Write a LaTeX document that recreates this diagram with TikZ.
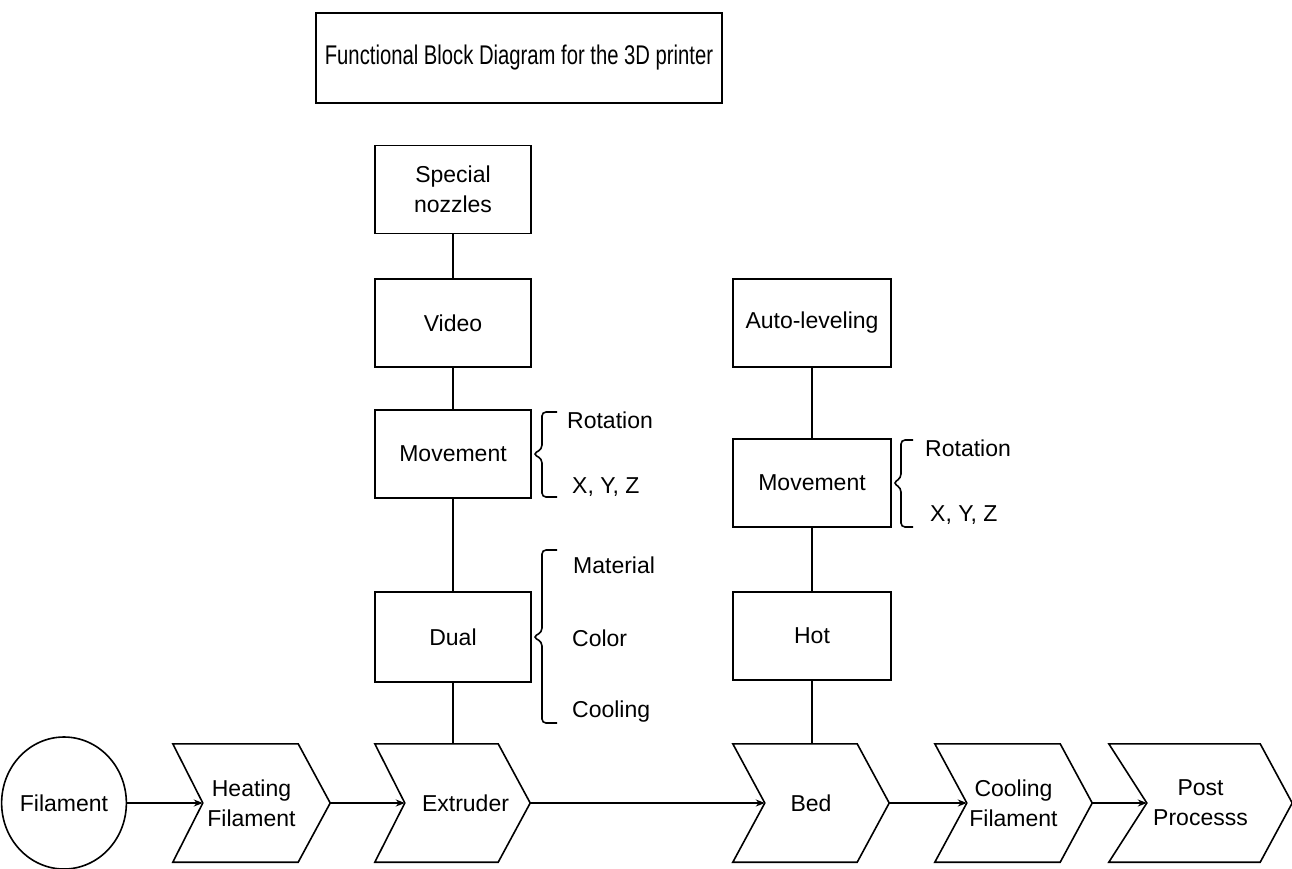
\documentclass[tikz,border=0pt]{standalone}
\usepackage{fontspec}
\setmainfont{Liberation Sans}
\newfontfamily\ttlfont{Liberation Sans}[FakeStretch=0.75]
\usetikzlibrary{arrows.meta,calc,shapes.geometric}
\newcommand\lbl{\fontsize{23}{30}\selectfont}
\newcommand\chevdraw[3]{\draw[ln] (#1.north west) -- ([xshift=-#2]#1.north east) -- (#1.east) -- ([xshift=-#2]#1.south east) -- (#1.south west) -- ([xshift=#3]#1.west) -- cycle;}
\begin{document}
\begin{tikzpicture}[x=1pt,y=-1pt,
  ln/.style={line width=1.6pt},
  box/.style={draw,line width=1.6pt,minimum width=156pt,minimum height=88pt,inner sep=0pt,align=center,font=\lbl},
  chev/.style={minimum height=118pt,inner sep=0pt,align=center,font=\lbl},
  arr/.style={line width=1.6pt,-{Stealth[length=9pt,width=7pt]}},
  side/.style={anchor=west,inner sep=0pt,font=\lbl}]
\useasboundingbox (0,0) rectangle (1292,868);
\fill[white] (0,0) rectangle (1292,868);

% title
\node[draw,line width=1.6pt,minimum width=406pt,minimum height=90pt,inner sep=0pt,font=\ttlfont\fontsize{27}{30}\selectfont] (title) at (519,58) {Functional Block Diagram for the 3D printer};

% left column
\node[box] (spec) at (453,189.5) {Special\\nozzles};
\node[box] (video) at (453,323) {Video};
\node[box] (mov1) at (453,454) {Movement};
\node[box,minimum height=90pt] (dual) at (453,637) {Dual};

% right column
\node[box,minimum width=158pt] (auto) at (812,323) {Auto-leveling};
\node[box,minimum width=158pt] (mov2) at (812,483) {Movement};
\node[box,minimum width=158pt] (hot) at (812,636) {Hot};

% bottom row
\node[draw,ellipse,line width=1.6pt,minimum width=118pt,minimum height=132pt,inner sep=0pt,font=\lbl] (fil) at (64,803) {Filament};
\node[chev,minimum width=157pt] (heat) at (251.5,803) {Heating\\Filament};
\node[chev,minimum width=155pt] (ext) at (452.5,803) {\hspace*{26pt}Extruder};
\node[chev,minimum width=156pt] (bed) at (811,803) {Bed};
\node[chev,minimum width=157pt] (cool) at (1013.5,803) {Cooling\\Filament};
\node[chev,minimum width=183pt] (post) at (1200.5,803) {Post\\Processs};
\chevdraw{heat}{32}{30}
\chevdraw{ext}{32}{30}
\chevdraw{bed}{32}{32}
\chevdraw{cool}{32}{32}
\chevdraw{post}{32}{38}

% arrows
\draw[arr] (fil.east) -- ([xshift=30]heat.west);
\draw[arr] (heat.east) -- ([xshift=30]ext.west);
\draw[arr] (ext.east) -- ([xshift=32]bed.west);
\draw[arr] (bed.east) -- ([xshift=32]cool.west);
\draw[arr] (cool.east) -- ([xshift=38]post.west);

% vertical links
\draw[ln] (spec) -- (video);
\draw[ln] (video) -- (mov1);
\draw[ln] (mov1) -- (dual);
\draw[ln] (dual.south) -- (dual.south |- ext.north);
\draw[ln] (auto) -- (mov2);
\draw[ln] (mov2) -- (hot);
\draw[ln] (hot.south) -- (hot.south |- bed.north);

% braces
\draw[ln,rounded corners=4pt] (557,412) -- (542,412) -- (542,449) -- (533,454) -- (542,459) -- (542,497) -- (557,497);
\draw[ln,rounded corners=4pt] (557,550) -- (542,550) -- (542,632) -- (533,637) -- (542,642) -- (542,723) -- (557,723);
\draw[ln,rounded corners=4pt] (913,440) -- (901,440) -- (901,478) -- (893,483) -- (901,488) -- (901,527) -- (913,527);

% side labels
\node[side] (rot1) at (567,420) {Rotation};
\node[side] (xyz1) at (572,487) {X, Y, Z};
\node[side] (mat) at (573,565) {Material};
\node[side] (col) at (572,638) {Color};
\node[side] (coo) at (572,712) {Cooling};
\node[side] (rot2) at (925,448) {Rotation};
\node[side] (xyz2) at (930,515) {X, Y, Z};
\end{tikzpicture}
\end{document}
